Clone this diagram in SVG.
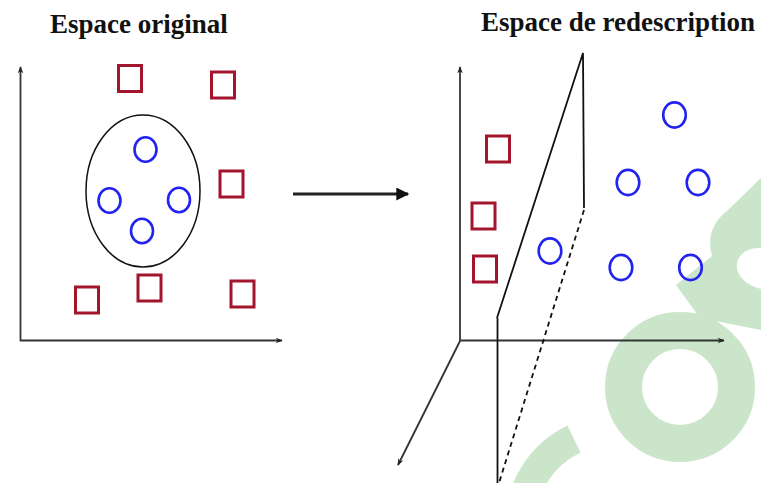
<svg xmlns="http://www.w3.org/2000/svg" width="761" height="483" viewBox="0 0 761 483">
<defs>
<style>
.title{font-family:"Liberation Serif","Times New Roman",serif;font-weight:bold;font-size:27px;fill:#111}
.sq{fill:none;stroke:#a3152d;stroke-width:3}
.ci{fill:none;stroke:#2323f0;stroke-width:2.6}
.axis{fill:none;stroke:#333;stroke-width:1.8}
.plane{fill:none;stroke:#111;stroke-width:1.8}
.wm{fill:none;stroke:#cbe5cb}
</style>
<marker id="ah" viewBox="0 0 10 10" refX="9" refY="5" markerWidth="8" markerHeight="7" orient="auto" markerUnits="userSpaceOnUse">
<path d="M0,1 L10,5 L0,9 L3,5 Z" fill="#222"/>
</marker>
<marker id="ahbig" viewBox="0 0 10 10" refX="9" refY="5" markerWidth="18" markerHeight="13" orient="auto" markerUnits="userSpaceOnUse">
<path d="M0,0 L10,5 L0,10 Z" fill="#111"/>
</marker>
</defs>
<rect width="761" height="483" fill="#fff"/>

<g id="watermark">
<path d="M676,285 L712,256 C707,238 712,222 728,210 L761,178 L761,248 C745,247 733,258 738,272 C741,280 750,286 761,289 L761,330 L700,318 Z" fill="#cbe5cb"/>
<circle cx="680" cy="387" r="56.5" class="wm" stroke-width="37"/>
<path d="M574,439 A95,95 0 0 0 520,525" class="wm" stroke-width="30"/>
</g>

<g id="title-original"><text class="title" x="50" y="33">Espace original</text></g>
<g id="title-redescription"><text class="title" x="481" y="31">Espace de redescription</text></g>

<g id="axes-original">
<line class="axis" x1="20.5" y1="341" x2="20.5" y2="67" marker-end="url(#ah)"/>
<line class="axis" x1="20" y1="340.5" x2="282" y2="340.5" marker-end="url(#ah)"/>
</g>

<g id="axes-redescription">
<line class="axis" x1="460" y1="341" x2="460" y2="67" marker-end="url(#ah)"/>
<line class="axis" x1="460" y1="340.5" x2="724" y2="340.5" marker-end="url(#ah)"/>
<line class="axis" x1="460" y1="341" x2="398" y2="465" marker-end="url(#ah)"/>
</g>

<g id="plane">
<polyline class="plane" points="497,318 583,53 584,208"/>
<line class="plane" x1="497.5" y1="318" x2="497.5" y2="483"/>
<line class="plane" x1="584" y1="210" x2="499" y2="483" stroke-dasharray="5,4"/>
</g>

<g id="connectors">
<line x1="293" y1="194" x2="408" y2="194" stroke="#222" stroke-width="3" marker-end="url(#ahbig)"/>
</g>

<g id="boundary-ellipse"><ellipse cx="143" cy="191" rx="57" ry="76" fill="none" stroke="#111" stroke-width="1.5"/></g>

<g id="squares-original">
<rect class="sq" x="118.5" y="65.5" width="23" height="26"/>
<rect class="sq" x="211.5" y="72" width="23" height="26"/>
<rect class="sq" x="220" y="171" width="23" height="26"/>
<rect class="sq" x="75.5" y="287" width="23" height="26"/>
<rect class="sq" x="138" y="275" width="23" height="26"/>
<rect class="sq" x="231" y="281" width="23" height="26"/>
</g>

<g id="circles-original">
<ellipse class="ci" cx="145.5" cy="149.5" rx="11" ry="12.3"/>
<ellipse class="ci" cx="109.5" cy="200.5" rx="11" ry="12.3"/>
<ellipse class="ci" cx="179" cy="200" rx="11" ry="12.3"/>
<ellipse class="ci" cx="142" cy="231" rx="11" ry="12.3"/>
</g>

<g id="squares-redescription">
<rect class="sq" x="486.5" y="136" width="23" height="26"/>
<rect class="sq" x="472" y="203" width="23" height="26"/>
<rect class="sq" x="473.5" y="256" width="23" height="26"/>
</g>

<g id="circles-redescription">
<ellipse class="ci" cx="674.5" cy="115" rx="11.3" ry="12.6"/>
<ellipse class="ci" cx="628" cy="182.5" rx="11.3" ry="12.6"/>
<ellipse class="ci" cx="698" cy="182.5" rx="11.3" ry="12.6"/>
<ellipse class="ci" cx="550" cy="251" rx="11.3" ry="12.6"/>
<ellipse class="ci" cx="621" cy="267.5" rx="11.3" ry="12.6"/>
<ellipse class="ci" cx="690.5" cy="267.5" rx="11.3" ry="12.6"/>
</g>
</svg>
